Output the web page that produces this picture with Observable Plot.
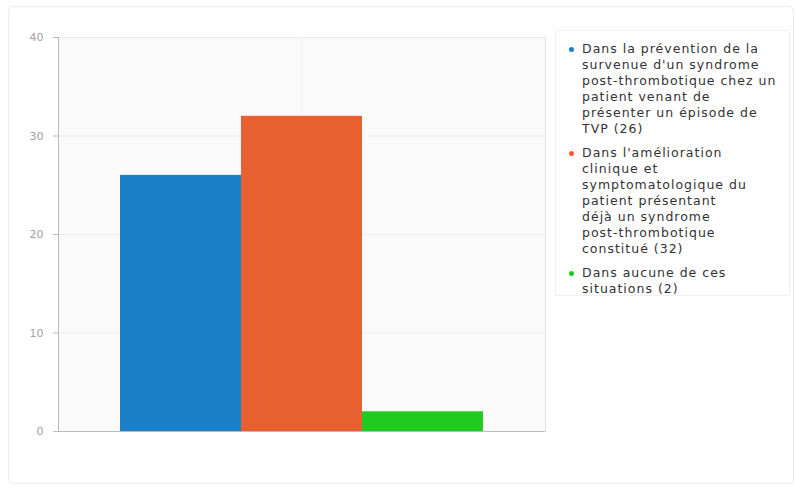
<!DOCTYPE html>
<html><head><meta charset="utf-8">
<script src="https://cdn.jsdelivr.net/npm/d3@7"></script>
<script src="https://cdn.jsdelivr.net/npm/@observablehq/plot@0.6"></script>
<style>
html,body{margin:0;padding:0;background:#fff;}
#wrap{position:relative;width:795px;height:492px;overflow:hidden;font-family:"DejaVu Sans",sans-serif;}
#frame{position:absolute;left:8px;top:6px;width:786px;height:478px;border:1px solid #ececec;border-radius:5px;box-sizing:border-box;}
#chart{position:absolute;left:0;top:0;}
#legend{position:absolute;left:555px;top:30px;width:235px;height:266px;box-sizing:border-box;border:1px solid #f0f0f0;padding:10px 0 0 26px;font-size:12.5px;line-height:16px;color:#333;letter-spacing:1px;white-space:nowrap;}
#legend .item{position:relative;margin-bottom:8px;}
#legend .dot{position:absolute;left:-13px;top:6px;width:5px;height:5px;border-radius:50%;}
</style>
</head><body>
<div id="wrap"><div id="frame"></div><div id="chart"></div><div id="legend"></div></div>
<script>
const categories = ["prevention", "amelioration", "aucune"];
const values = [26, 32, 2];
const colors = ["#1a80c8", "#e8602f", "#1fcb1f"];
const legendLines = [
  ["Dans la prévention de la", "survenue d'un syndrome", "post-thrombotique chez un", "patient venant de", "présenter un épisode de", "TVP (26)"],
  ["Dans l'amélioration", "clinique et", "symptomatologique du", "patient présentant", "déjà un syndrome", "post-thrombotique", "constitué (32)"],
  ["Dans aucune de ces", "situations (2)"]
];
const yTicks = [0, 10, 20, 30, 40];

const data = categories.map((c, i) => ({category: c, value: values[i]}));

const chart = Plot.plot({
  width: 795,
  height: 492,
  marginLeft: 58,
  marginRight: 250,
  marginTop: 37,
  marginBottom: 61,
  style: {background: "transparent", fontFamily: "DejaVu Sans, sans-serif"},
  x: {domain: categories, paddingInner: 0, paddingOuter: 0.5, axis: null},
  y: {domain: [0, 40]},
  color: {domain: categories, range: colors},
  marks: [
    Plot.frame({fill: "#fafafa", stroke: "#e4e4e4"}),
    Plot.gridY(yTicks, {stroke: "#ececec", strokeOpacity: 1}),
    Plot.ruleX([categories[1]], {stroke: "#ececec"}),
    Plot.barY(data, {x: "category", y: "value", fill: "category"}),
    Plot.ruleY([0], {stroke: "#bbbbbb"}),
    Plot.frame({anchor: "left", stroke: "#bbbbbb"}),
    Plot.axisY(yTicks, {tickSize: 5, tickPadding: 10, stroke: "#bbbbbb", color: "#a0a0a0", fontSize: 11, label: null})
  ]
});
document.getElementById("chart").appendChild(chart);

const legend = document.getElementById("legend");
legendLines.forEach((lines, i) => {
  const item = document.createElement("div");
  item.className = "item";
  const dot = document.createElement("span");
  dot.className = "dot";
  dot.style.background = colors[i];
  item.appendChild(dot);
  lines.forEach((l, j) => {
    if (j) item.appendChild(document.createElement("br"));
    item.appendChild(document.createTextNode(l));
  });
  legend.appendChild(item);
});
</script>
</body></html>
